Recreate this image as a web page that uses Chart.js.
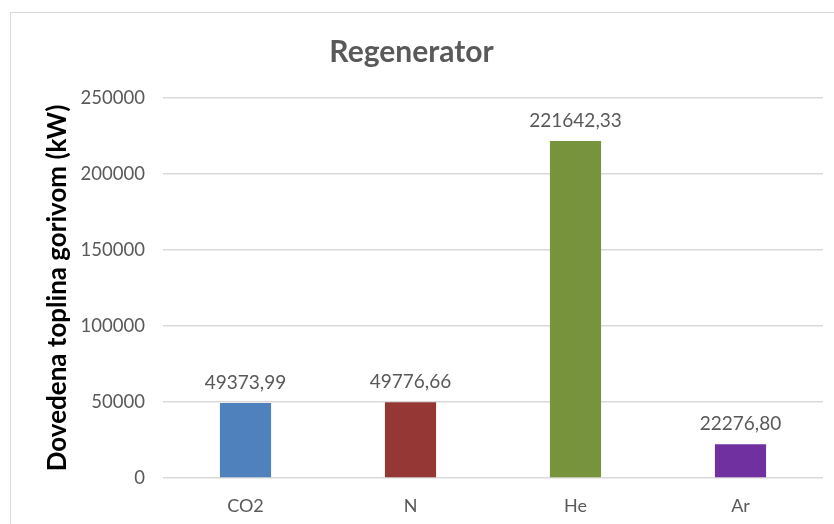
<!DOCTYPE html>
<html>
<head>
<meta charset="utf-8">
<script src="https://cdn.jsdelivr.net/npm/chart.js@4.4.1/dist/chart.umd.min.js"></script>
<style>
  html, body { margin: 0; padding: 0; background: #fff; overflow: hidden; }
  #wrap { position: relative; width: 834px; height: 524px; }
  #frame { position: absolute; left: 10px; top: 12px; width: 900px; height: 600px; border: 1px solid #d9d9d9; box-sizing: border-box; }
  canvas { position: absolute; left: 0; top: 0; }
</style>
</head>
<body>
<div id="wrap">
  <div id="frame"></div>
  <canvas id="regenChart" width="834" height="524"></canvas>
</div>
<script>
const gases = ['CO2', 'N', 'He', 'Ar'];
const heatInput = [49373.99, 49776.66, 221642.33, 22276.80];
const barColors = ['#4f81bd', '#953735', '#77933c', '#7030a0'];
const yTicks = [0, 50000, 100000, 150000, 200000, 250000];

const textGray = '#595959';

// value labels above each bar, decimal comma
const barLabels = {
  id: 'barLabels',
  afterDatasetsDraw(chart) {
    const ctx = chart.ctx;
    const meta = chart.getDatasetMeta(0);
    ctx.save();
    ctx.font = '19px Lato';
    ctx.fillStyle = textGray;
    ctx.textAlign = 'center';
    ctx.textBaseline = 'bottom';
    meta.data.forEach(function (bar, i) {
      const txt = heatInput[i].toFixed(2).replace('.', ',');
      ctx.fillText(txt, bar.x, bar.y - 11);
    });
    ctx.restore();
  }
};

const chart = new Chart(document.getElementById('regenChart'), {
  type: 'bar',
  data: {
    labels: gases,
    datasets: [{
      label: 'Regenerator',
      data: heatInput,
      backgroundColor: barColors,
      borderWidth: 0,
      barPercentage: 0.31,
      categoryPercentage: 1
    }]
  },
  options: {
    responsive: false,
    animation: false,
    layout: { padding: { left: 0, right: 11, top: 0, bottom: 0 } },
    plugins: {
      legend: { display: false },
      tooltip: { enabled: false },
      title: {
        display: true,
        text: 'Regenerator',
        color: textGray,
        font: { family: 'Lato', size: 30, weight: 'bold', lineHeight: 1.2 },
        padding: { top: 34, bottom: 28 }
      }
    },
    scales: {
      x: {
        grid: { display: false, drawTicks: false },
        border: { display: false },
        ticks: { color: textGray, font: { family: 'Lato', size: 18 }, padding: 17 },
        afterFit: function (scale) { scale.height = 46; }
      },
      y: {
        min: 0,
        max: 250000,
        afterBuildTicks: function (scale) {
          scale.ticks = yTicks.map(function (v) { return { value: v }; });
        },
        grid: { color: '#d9d9d9', lineWidth: 1.5, drawTicks: false },
        border: { display: false },
        ticks: {
          color: textGray,
          font: { family: 'Lato', size: 18.5 },
          padding: 18,
          callback: function (v) { return String(v); }
        },
        title: {
          display: true,
          text: 'Dovedena toplina gorivom (kW)',
          color: '#000',
          font: { family: 'Lato', size: 26, weight: 'bold', lineHeight: 1.2 },
          padding: { top: 42, bottom: 0 }
        },
        afterFit: function (scale) { scale.width = 163; }
      }
    }
  },
  plugins: [barLabels]
});
</script>
</body>
</html>
